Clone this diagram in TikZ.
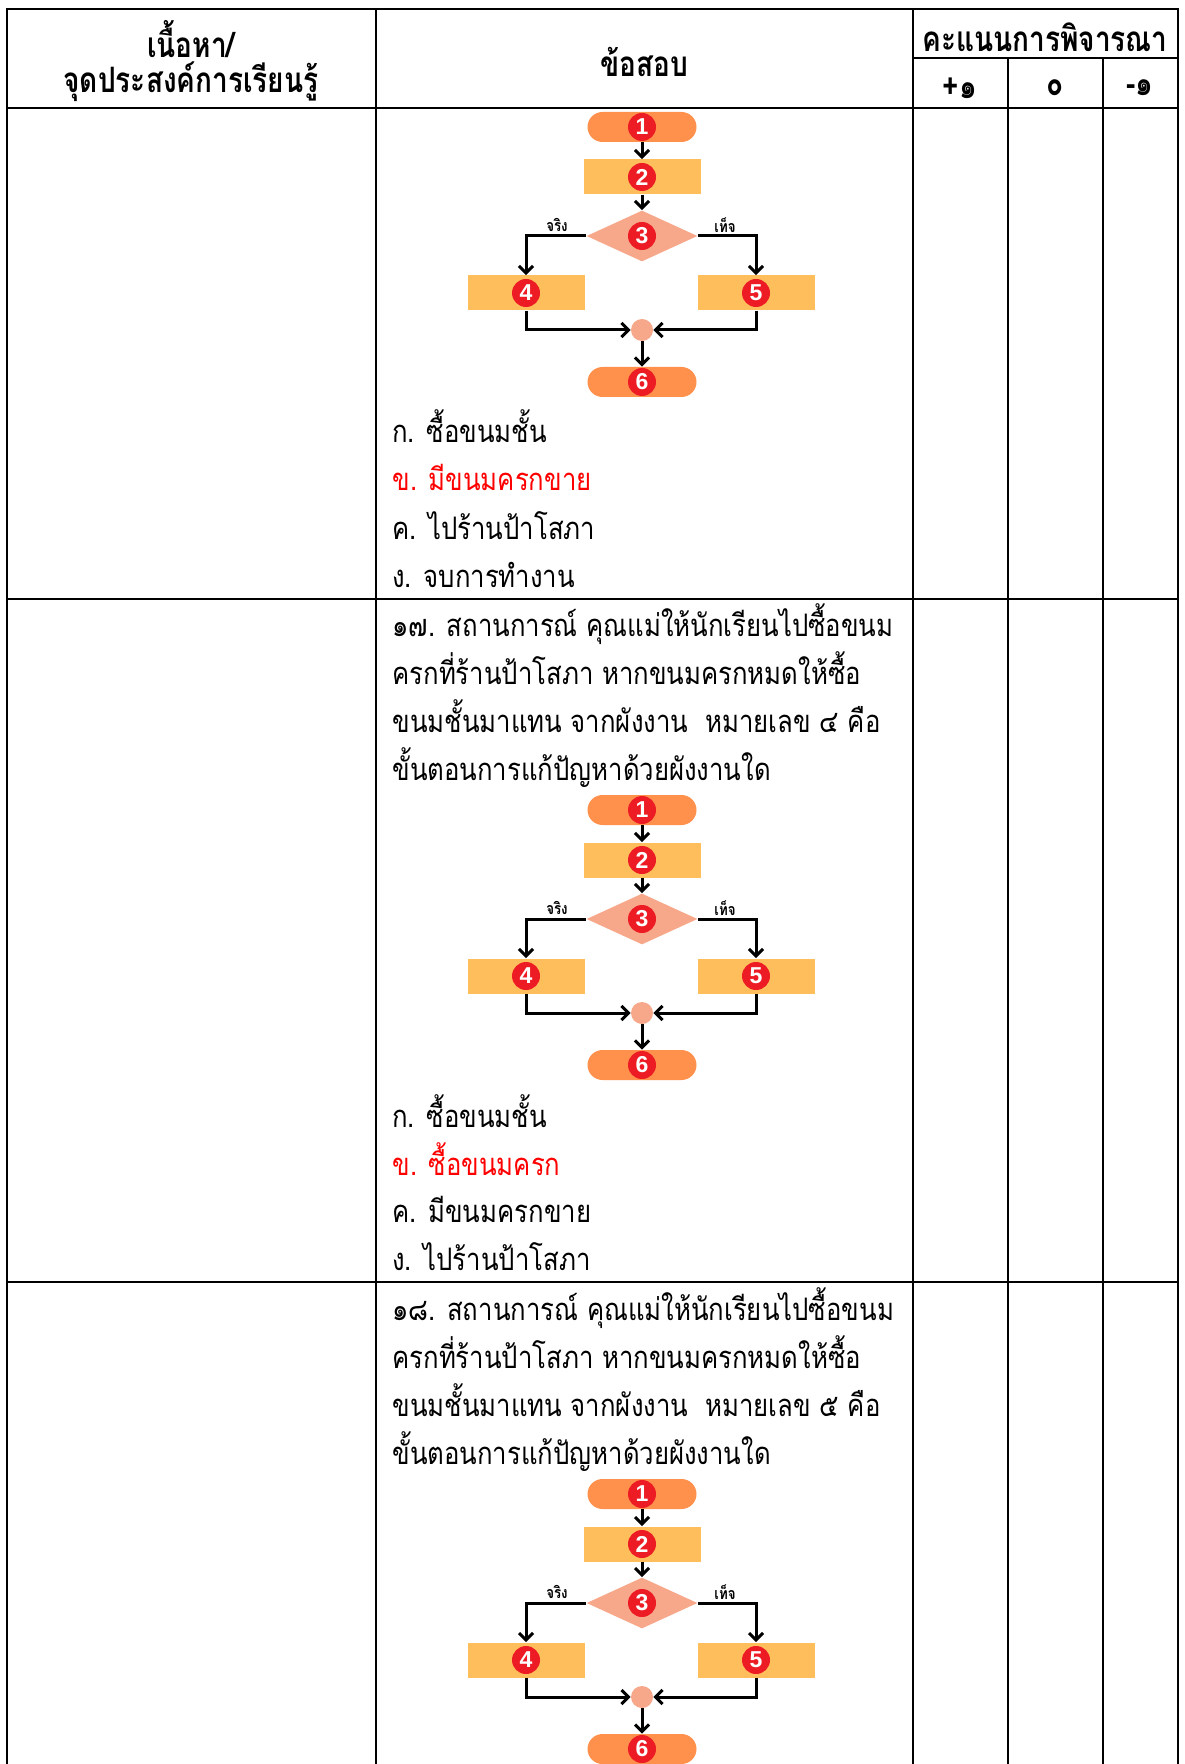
\documentclass[tikz,border=0pt]{standalone}
\usepackage{fontspec}
\setmainfont[Script=Thai,FakeStretch=0.83]{Loma}
\newfontfamily\headfont[Script=Thai,FakeStretch=0.8]{Loma}
\newfontfamily\badgefont{Liberation Sans}
\usetikzlibrary{shapes.geometric,arrows.meta}

\definecolor{termorange}{RGB}{255,145,77}
\definecolor{procyellow}{RGB}{255,190,92}
\definecolor{decsalmon}{RGB}{248,168,138}
\definecolor{badgered}{RGB}{237,28,36}

% one flow chart: #1 prefix of the names, #2 height of the start node
\newcommand{\kanomchart}[2]{
\begin{scope}[shift={(0,#2)}]
\node [terminal] (#1-1) at (642,0) {};
\node [process] (#1-2) at (642,50) {};
\node [decision] (#1-3) at (642,109) {};
\node [process] (#1-4) at (526,166) {};
\node [process] (#1-5) at (756,166) {};
\node [joint] (#1-j) at (642,203) {};
\node [terminal] (#1-6) at (642,255) {};
\foreach \n in {1,...,6}
	\node [badge] (#1-b\n) at (#1-\n) {\n};
\node [branch] (#1-yes) at (557,98) {จริง};
\node [branch] (#1-no) at (725,98) {เท็จ};
\end{scope}
\draw [flow] (#1-1) -- (#1-2);
\draw [flow] (#1-2) -- (#1-3);
\draw [flow] (#1-3.west) -| (#1-4);
\draw [flow] (#1-3.east) -| (#1-5);
\draw [flow] (#1-4) |- (#1-j);
\draw [flow] (#1-5) |- (#1-j);
\draw [flow] (#1-j) -- (#1-6);
}

\begin{document}
\begin{tikzpicture}[x=0.5pt,y=-0.5pt,
	grid/.style={line width=1.3pt,line cap=rect},
	terminal/.style={rectangle,rounded corners=7.5pt,fill=termorange,minimum width=54.5pt,minimum height=15pt,inner sep=0pt},
	process/.style={rectangle,fill=procyellow,minimum width=58.5pt,minimum height=17.5pt,inner sep=0pt},
	decision/.style={diamond,aspect=2.2,fill=decsalmon,minimum width=55.5pt,minimum height=25.5pt,inner sep=0pt},
	joint/.style={circle,fill=decsalmon,minimum size=11pt,inner sep=0pt},
	badge/.style={circle,fill=badgered,minimum size=14pt,inner sep=0pt,text=white,font=\badgefont\bfseries\fontsize{11.5}{11.5}\selectfont},
	branch/.style={inner sep=0pt,font=\bfseries\fontsize{8}{8}\selectfont},
	flow/.style={line width=1.5pt,-{Straight Barb[length=3.5pt,width=7pt]}},
	head/.style={inner sep=0pt,font=\headfont\bfseries\fontsize{17.5}{17.5}\selectfont},
	line/.style={anchor=base west,inner sep=0pt,font=\fontsize{15.5}{15.5}\selectfont},
	key/.style={line,text=red}]
\useasboundingbox (0,0) rectangle (1184,1764);

% table
\draw [grid] (7,1764) -- (7,9) -- (1178,9) -- (1178,1764);
\draw [grid] (376,9) -- (376,1764);
\draw [grid] (913,9) -- (913,1764);
\draw [grid] (1008,58) -- (1008,1764);
\draw [grid] (1103,58) -- (1103,1764);
\draw [grid] (913,58) -- (1178,58);
\draw [grid] (7,108) -- (1178,108);
\draw [grid] (7,599) -- (1178,599);
\draw [grid] (7,1282) -- (1178,1282);

% header
\node [head] (h1) at (191,39) {เนื้อหา/};
\node [head] (h2) at (191,82) {จุดประสงค์การเรียนรู้};
\node [head] (h3) at (644,62) {ข้อสอบ};
\node [head] (h4) at (1045,37) {คะแนนการพิจารณา};
\node [head] (p1) at (960,88) {+๑};
\node [head] (p0) at (1055,88) {๐};
\node [head] (m1) at (1140,88) {-๑};

% item 16 (rest)
\kanomchart{a}{127}
\node [line] (a-ka) at (392,443) {ก. ซื้อขนมชั้น};
\node [key] (a-kh) at (392,491) {ข. มีขนมครกขาย};
\node [line] (a-kk) at (392,539) {ค. ไปร้านป้าโสภา};
\node [line] (a-ng) at (392,587) {ง. จบการทำงาน};

% item 17
\node [line] (b-q1) at (392,636) {๑๗. สถานการณ์ คุณแม่ให้นักเรียนไปซื้อขนม};
\node [line] (b-q2) at (392,684) {ครกที่ร้านป้าโสภา หากขนมครกหมดให้ซื้อ};
\node [line] (b-q3) at (392,732) {ขนมชั้นมาแทน จากผังงาน\ \ หมายเลข ๔ คือ};
\node [line] (b-q4) at (392,780) {ขั้นตอนการแก้ปัญหาด้วยผังงานใด};
\kanomchart{b}{810}
\node [line] (b-ka) at (392,1127) {ก. ซื้อขนมชั้น};
\node [key] (b-kh) at (392,1175) {ข. ซื้อขนมครก};
\node [line] (b-kk) at (392,1222) {ค. มีขนมครกขาย};
\node [line] (b-ng) at (392,1270) {ง. ไปร้านป้าโสภา};

% item 18
\node [line] (c-q1) at (392,1320) {๑๘. สถานการณ์ คุณแม่ให้นักเรียนไปซื้อขนม};
\node [line] (c-q2) at (392,1368) {ครกที่ร้านป้าโสภา หากขนมครกหมดให้ซื้อ};
\node [line] (c-q3) at (392,1416) {ขนมชั้นมาแทน จากผังงาน\ \ หมายเลข ๕ คือ};
\node [line] (c-q4) at (392,1464) {ขั้นตอนการแก้ปัญหาด้วยผังงานใด};
\kanomchart{c}{1494}
\end{tikzpicture}
\end{document}
